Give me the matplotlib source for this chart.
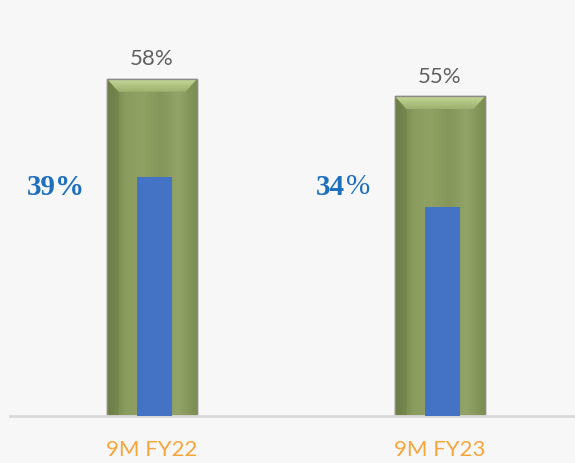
import matplotlib.pyplot as plt
import numpy as np
from matplotlib.patches import Polygon
from matplotlib.colors import LinearSegmentedColormap

periods = ["9M FY22", "9M FY23"]
outer_values = [58, 55]
inner_values = [39, 34]
outer_labels = ["58%", "55%"]
inner_numbers = ["39", "34"]

BG = "#f7f7f7"
GREEN = "#85965a"
BLUE = "#4472c4"
LABEL_BLUE = "#1f6fbf"
ORANGE = "#f8a53c"
GREY_TEXT = "#606060"

fig = plt.figure(figsize=(5.75, 4.63), dpi=100, facecolor=BG)
ax = fig.add_axes([10 / 575, 47 / 463, 565 / 575, 416 / 463])
ax.set_facecolor(BG)
ax2 = ax.twinx()

x = np.arange(len(periods))
outer_w = 0.3125
inner_w = 0.122

ax.set_xlim(-0.493, 1.469)
ax.set_ylim(0, 71.6)
ax2.set_ylim(0, 67.8)

bars = ax.bar(x, outer_values, outer_w, color=GREEN, edgecolor="#8a8a8a", linewidth=1, zorder=2)

# bevelled look: horizontal shading inside each outer bar + light top facet
shade = LinearSegmentedColormap.from_list(
    "shade", ["#6a7a45", "#8a9c5e", "#8fa163", "#85965a", "#93a468", "#7d8d52"]
)
grad = np.linspace(0, 1, 64).reshape(1, -1)
vgrad = np.linspace(0, 1, 32).reshape(-1, 1)
top_shade = LinearSegmentedColormap.from_list("top", ["#c4d796", "#9fb170"])
for b in bars:
    x0, w, h = b.get_x(), b.get_width(), b.get_height()
    im = ax.imshow(grad, cmap=shade, extent=[x0, x0 + w, 0, h], aspect="auto", zorder=2.1)
    im.set_clip_path(b)
    dx, dy = 0.04, 2.2
    top = Polygon(
        [(x0, h), (x0 + w, h), (x0 + w - dx, h - dy), (x0 + dx, h - dy)],
        closed=True, facecolor="none", edgecolor="none", zorder=2.2,
    )
    ax.add_patch(top)
    tim = ax.imshow(vgrad, cmap=top_shade, extent=[x0, x0 + w, h - dy, h],
                    aspect="auto", origin="upper", zorder=2.2)
    tim.set_clip_path(top)
    left = Polygon(
        [(x0, h), (x0 + dx, h - dy), (x0 + dx, 0), (x0, 0)],
        closed=True, facecolor="#6f7f48", edgecolor="none", alpha=0.5, zorder=2.2,
    )
    ax.add_patch(left)
    ax.plot([x0, x0 + w, x0 + w, x0, x0], [0, 0, h, h, 0], color="#8a8a8a", lw=1, zorder=2.3)
    ax.set_xlim(-0.493, 1.469)
    ax.set_ylim(0, 71.6)

ax2.bar(x + 0.01, inner_values, inner_w, color=BLUE, zorder=3)

for xi, v, lab in zip(x, outer_values, outer_labels):
    ax.text(xi, v + 1.7, lab, ha="center", va="bottom", fontsize=16,
            color=GREY_TEXT, family="Lato")

ax2.text(x[0] - 0.335, 37.3, "39%", ha="center", va="center", fontsize=21,
         color=LABEL_BLUE, family="Liberation Serif", fontweight="bold")
ax2.text(x[1] - 0.33, 37.3, inner_numbers[1], ha="right", va="center", fontsize=21,
         color=LABEL_BLUE, family="Liberation Serif", fontweight="bold")
ax2.text(x[1] - 0.326, 37.3, "%", ha="left", va="center", fontsize=21,
         color=LABEL_BLUE, family="Liberation Serif")

ax.set_xticks(x)
ax.set_xticklabels(periods, fontsize=16, color=ORANGE, family="Lato")
ax.tick_params(axis="x", length=0, pad=17)
ax.set_yticks([])
ax2.set_yticks([])

for a in (ax, ax2):
    for side in ("top", "right", "left"):
        a.spines[side].set_visible(False)
    a.spines["bottom"].set_color("#d9d9d9")
    a.spines["bottom"].set_linewidth(2)
ax2.spines["bottom"].set_visible(False)

fig.savefig("out.png", dpi=100, facecolor=BG)
